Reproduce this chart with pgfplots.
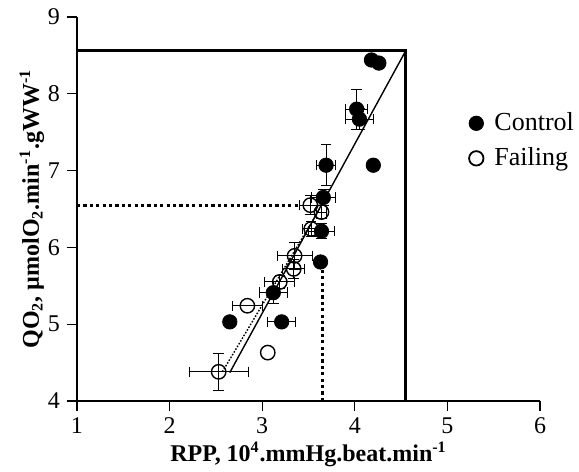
\documentclass[border=0pt]{standalone}
\usepackage{pgfplots}
\pgfplotsset{compat=1.18}
\usepackage{fontspec}
\setmainfont{Liberation Serif}

\begin{document}
\begin{tikzpicture}
\begin{axis}[
  scale only axis,
  width=231.5pt, height=192pt,
  xmin=1, xmax=6, ymin=4, ymax=9,
  xtick={1,2,...,6}, ytick={4,5,...,9},
  axis lines=left,
  axis line style={-, line width=0.6pt},
  tick style={line width=0.6pt, black},
  tick align=outside,
  major tick length=5pt,
  clip=false,
  /pgf/number format/assume math mode=true,
  tick label style={font=\fontsize{12}{14}\selectfont},
  xlabel={\textbf{RPP, 10\textsuperscript{4}.mmHg.beat.min\textsuperscript{-1}}},
  ylabel={\textbf{QO\textsubscript{2}, µmolO\textsubscript{2}.min\textsuperscript{-1}.gWW\textsuperscript{-1}}},
  label style={font=\fontsize{12}{14}\selectfont},
  xlabel style={yshift=3pt},
  ylabel style={yshift=-5pt},
  legend style={at={(axis cs:5.23,7.81)}, anchor=north west, draw=none, fill=none,
    font=\fontsize{13}{15}\selectfont, row sep=3pt, inner sep=0pt,
    /tikz/every odd column/.append style={column sep=3.5pt}},
  legend cell align=left,
  error bars/error bar style={line width=0.5pt, black},
  error bars/error mark options={rotate=90, mark size=2.6pt, line width=0.5pt, black},
]
\coordinate (ll) at (rel axis cs:0,0);
\coordinate (ur) at (rel axis cs:1,1);
% reference lines
\addplot[black, line width=1.6pt, forget plot] coordinates {(1,8.56) (4.55,8.56) (4.55,4)};
\addplot[black, line width=1.6pt, dash pattern=on 1.6pt off 1.6pt, forget plot] coordinates {(1,6.55) (3.4,6.55)};
\addplot[black, line width=1.6pt, dash pattern=on 1.6pt off 1.6pt, forget plot] coordinates {(3.65,4) (3.65,5.8)};
% regression lines
\addplot[black, line width=0.7pt, forget plot] coordinates {(2.65,4.37) (4.55,8.56)};
\addplot[black, line width=0.7pt, dash pattern=on 0.8pt off 0.8pt, forget plot] coordinates {(2.57,4.38) (3.62,6.50)};

% Control with error bars
\addplot[only marks, mark=*, mark size=3.6pt, black, forget plot,
  error bars/.cd, x dir=both, y dir=both, x explicit, y explicit]
  coordinates {
  (3.21,5.03) +- (0.15,0.0)
  (3.12,5.41) +- (0.15,0.14)
  (3.64,6.21) +- (0.14,0.10)
  (3.66,6.65) +- (0.13,0.10)
  (3.69,7.07) +- (0.10,0.27)
  (4.02,7.80) +- (0.12,0.26)
  (4.05,7.67) +- (0.15,0.14)
  };
\addplot[only marks, mark=*, mark size=3.6pt, black, forget plot]
  coordinates {(2.65,5.03) (3.63,5.81) (4.18,8.44) (4.26,8.40) (4.20,7.07)};

% Failing with error bars
\addplot[only marks, mark=o, mark size=3.6pt, black, mark options={line width=0.7pt}, forget plot,
  error bars/.cd, x dir=both, y dir=both, x explicit, y explicit]
  coordinates {
  (2.53,4.38) +- (0.32,0.24)
  (2.84,5.24) +- (0.16,0.0)
  (3.19,5.55) +- (0.16,0.08)
  (3.34,5.72) +- (0.12,0.12)
  (3.35,5.89) +- (0.19,0.18)
  (3.53,6.24) +- (0.10,0.10)
  (3.64,6.46) +- (0.05,0.08)
  (3.52,6.55) +- (0.12,0.12)
  };
\addplot[only marks, mark=o, mark size=3.6pt, black, mark options={line width=0.7pt}, forget plot]
  coordinates {(3.06,4.63)};

\addlegendimage{only marks, mark=*, mark size=3.6pt, black}
\addlegendentry{Control}
\addlegendimage{only marks, mark=o, mark size=3.6pt, black, mark options={line width=0.9pt}}
\addlegendentry{Failing}
\end{axis}
\pgfresetboundingbox
\path ([shift={(-38.5pt,-35.5pt)}]ll) rectangle ([shift={(19.5pt,8.5pt)}]ur);
\end{tikzpicture}
\end{document}
